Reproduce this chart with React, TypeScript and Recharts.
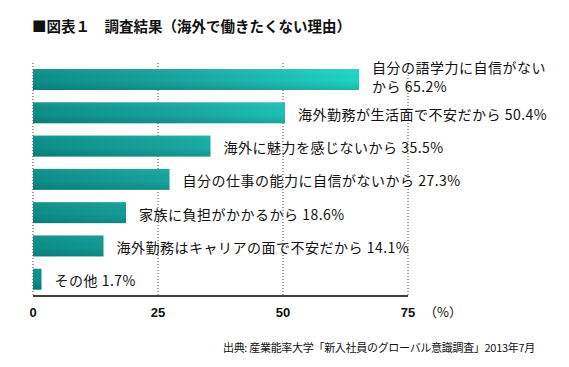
import { BarChart, Bar, XAxis, YAxis, CartesianGrid, LabelList } from 'recharts'

// 海外で働きたくない理由 (%), top to bottom
const reasons = [
  '自分の語学力に自信がない\nから',
  '海外勤務が生活面で不安だから',
  '海外に魅力を感じないから',
  '自分の仕事の能力に自信がないから',
  '家族に負担がかかるから',
  '海外勤務はキャリアの面で不安だから',
  'その他',
]
const shares = [65.2, 50.4, 35.5, 27.3, 18.6, 14.1, 1.7]
const xTicks = [0, 25, 50, 75]

const data = reasons.map((name, i) => ({
  name,
  value: shares[i],
  label: `${name} ${shares[i]}%`,
}))

const FONT = '"Noto Sans CJK JP", "Noto Sans", sans-serif'

function GradBar(props: any) {
  const { x, y, width, height } = props
  if (!width || width <= 0) return null
  return (
    <g>
      <rect x={x} y={y} width={width} height={height} fill="url(#barH)" />
      <rect x={x} y={y} width={width} height={height} fill="url(#barV)" />
    </g>
  )
}

function BarLabel(props: any) {
  const { x, y, width, height, value } = props
  const lines = String(value).split('\n')
  const lx = x + width + 13
  const cy = y + height / 2
  if (lines.length > 1) {
    return (
      <g>
        <text x={lx} y={cy - 13} fontSize={14} letterSpacing={0.5} fontFamily={FONT} fill="#111" dominantBaseline="central">
          {lines[0]}
        </text>
        <text x={lx} y={cy + 6} fontSize={14} letterSpacing={0.5} fontFamily={FONT} fill="#111" dominantBaseline="central">
          {lines[1]}
        </text>
      </g>
    )
  }
  return (
    <text x={lx} y={cy + 1} fontSize={14} letterSpacing={0.5} fontFamily={FONT} fill="#111" dominantBaseline="central">
      {value}
    </text>
  )
}

export default function App() {
  return (
    <div style={{ position: 'absolute', left: 0, top: 0, width: 569, height: 367, background: '#fff' }}>
      <svg width={569} height={367} style={{ position: 'absolute', left: 0, top: 0, pointerEvents: 'none' }}>
        <defs>
          <linearGradient id="barH" gradientUnits="userSpaceOnUse" x1={33} y1={0} x2={370} y2={0}>
            <stop offset="0%" stopColor="#0c8e89" />
            <stop offset="45%" stopColor="#1aa6a1" />
            <stop offset="100%" stopColor="#20d8c8" />
          </linearGradient>
          <linearGradient id="barV" x1={0} y1={0} x2={0} y2={1}>
            <stop offset="0%" stopColor="#ffffff" stopOpacity={0.06} />
            <stop offset="55%" stopColor="#000000" stopOpacity={0} />
            <stop offset="100%" stopColor="#000000" stopOpacity={0.14} />
          </linearGradient>
        </defs>
        <text x={32} y={25} fontSize={14.5} fontWeight="bold" fontFamily={FONT} fill="#111" dominantBaseline="central">
          ■図表１　調査結果（海外で働きたくない理由）
        </text>
        <text x={424} y={311} fontSize={13} fontFamily={FONT} fill="#111" dominantBaseline="central">
          （%）
        </text>
        <text x={535} y={347} fontSize={11} letterSpacing={-0.3} textAnchor="end" fontFamily={FONT} fill="#111" dominantBaseline="central">
          出典: 産業能率大学「新入社員のグローバル意識調査」2013年7月
        </text>
      </svg>
      <div style={{ position: 'absolute', left: 0, top: 0 }}>
        <BarChart
          width={569}
          height={367}
          data={data}
          layout="vertical"
          margin={{ top: 63, right: 161, bottom: 41, left: 33 }}
          barCategoryGap={12}
        >
          <CartesianGrid horizontal={false} stroke="#444" strokeDasharray="1 2" />
          <XAxis
            type="number"
            domain={[0, 75]}
            ticks={xTicks}
            height={30}
            axisLine={{ stroke: '#000', strokeWidth: 1.5 }}
            tickLine={false}
            tickMargin={6}
            tick={{ fontSize: 13, fontWeight: 'bold', fill: '#111', fontFamily: '"Liberation Sans", Arial, sans-serif' }}
          />
          <YAxis
            type="category"
            dataKey="name"
            width={0}
            tick={false}
            tickLine={false}
            axisLine={{ stroke: '#000', strokeWidth: 1.5 }}
          />
          <Bar dataKey="value" barSize={21} shape={<GradBar />} isAnimationActive={false}>
            <LabelList dataKey="label" content={<BarLabel />} />
          </Bar>
        </BarChart>
      </div>
    </div>
  )
}
